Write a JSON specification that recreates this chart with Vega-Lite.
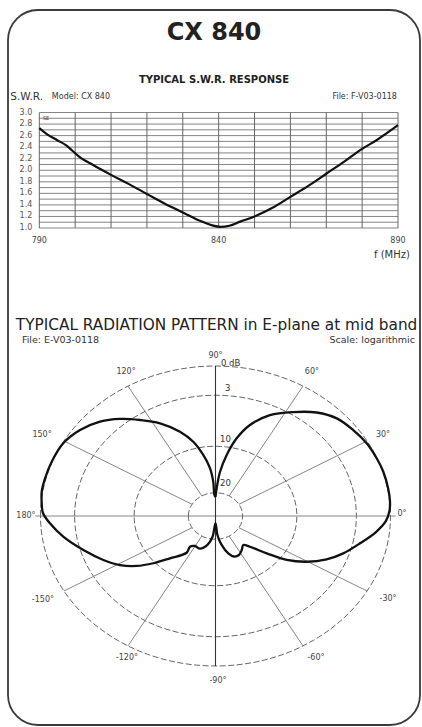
{
  "$schema": "https://vega.github.io/schema/vega-lite/v6.json",
  "width": 412,
  "height": 715,
  "autosize": {"type": "none"},
  "padding": {"left": 8, "top": 10, "right": 2, "bottom": 2},
  "background": "white",
  "config": {
    "font": "DejaVu Sans",
    "view": {"stroke": "#3a3a3a", "strokeWidth": 1.8, "cornerRadius": 30, "fill": "white"},
    "text": {"font": "DejaVu Sans", "color": "#222"}
  },
  "title": {
    "text": "CX 840",
    "subtitle": "TYPICAL S.W.R. RESPONSE",
    "anchor": "middle",
    "frame": "group",
    "offset": -75,
    "subtitlePadding": 30,
    "font": "DejaVu Sans",
    "fontSize": 24,
    "fontWeight": "bold",
    "color": "#222",
    "subtitleFont": "DejaVu Sans",
    "subtitleFontSize": 10,
    "subtitleFontWeight": "bold",
    "subtitleColor": "#222"
  },
  "resolve": {"scale": {"x": "independent", "y": "independent", "size": "independent"}},
  "layer": [
    {
      "layer": [
        {
          "data": {"values": [{"f": 790}, {"f": 800}, {"f": 810}, {"f": 820}, {"f": 830}, {"f": 840}, {"f": 850}, {"f": 860}, {"f": 870}, {"f": 880}, {"f": 890}]},
          "mark": {"type": "rule", "color": "#555", "strokeWidth": 0.9},
          "encoding": {
            "x": {"field": "f", "type": "quantitative", "scale": {"domain": [781.27, 896.13], "nice": false, "zero": false}, "axis": null},
            "y": {"datum": 1.0, "type": "quantitative", "scale": {"domain": [-7.606, 4.775], "nice": false, "zero": false}, "axis": null},
            "y2": {"datum": 3.0}
          }
        },
        {
          "data": {"values": [{"s": 1.0}, {"s": 1.1}, {"s": 1.2}, {"s": 1.3}, {"s": 1.4}, {"s": 1.5}, {"s": 1.6}, {"s": 1.7}, {"s": 1.8}, {"s": 1.9}, {"s": 2.0}, {"s": 2.1}, {"s": 2.2}, {"s": 2.3}, {"s": 2.4}, {"s": 2.5}, {"s": 2.6}, {"s": 2.7}, {"s": 2.8}, {"s": 2.9}, {"s": 3.0}]},
          "mark": {"type": "rule", "color": "#666", "strokeWidth": 0.8},
          "encoding": {
            "y": {"field": "s", "type": "quantitative", "scale": {"domain": [-7.606, 4.775], "nice": false, "zero": false}, "axis": null},
            "x": {"datum": 790, "type": "quantitative", "scale": {"domain": [781.27, 896.13], "nice": false, "zero": false}, "axis": null},
            "x2": {"datum": 890}
          }
        },
        {
          "data": {"values": [
            {"f": 790, "s": 2.73}, {"f": 792, "s": 2.63}, {"f": 795, "s": 2.52}, {"f": 797.5, "s": 2.43},
            {"f": 799, "s": 2.35}, {"f": 801, "s": 2.24}, {"f": 805, "s": 2.09}, {"f": 810, "s": 1.92},
            {"f": 815, "s": 1.76}, {"f": 820, "s": 1.59}, {"f": 825, "s": 1.42}, {"f": 830, "s": 1.27},
            {"f": 835, "s": 1.12}, {"f": 838, "s": 1.05}, {"f": 840.5, "s": 1.02}, {"f": 843, "s": 1.04},
            {"f": 846, "s": 1.11}, {"f": 850, "s": 1.2}, {"f": 855, "s": 1.35}, {"f": 860, "s": 1.54},
            {"f": 865, "s": 1.73}, {"f": 870, "s": 1.94}, {"f": 875, "s": 2.15}, {"f": 880, "s": 2.37},
            {"f": 884, "s": 2.52}, {"f": 890, "s": 2.78}
          ]},
          "mark": {"type": "line", "color": "#111", "strokeWidth": 2.2, "interpolate": "monotone"},
          "encoding": {
            "x": {"field": "f", "type": "quantitative", "scale": {"domain": [781.27, 896.13], "nice": false, "zero": false}, "axis": null},
            "y": {"field": "s", "type": "quantitative", "scale": {"domain": [-7.606, 4.775], "nice": false, "zero": false}, "axis": null}
          }
        },
        {
          "data": {"values": [{"s": 1.0}, {"s": 1.2}, {"s": 1.4}, {"s": 1.6}, {"s": 1.8}, {"s": 2.0}, {"s": 2.2}, {"s": 2.4}, {"s": 2.6}, {"s": 2.8}, {"s": 3.0}]},
          "mark": {"type": "text", "align": "right", "baseline": "middle", "fontSize": 8, "color": "#555", "dx": -7},
          "encoding": {
            "x": {"datum": 790, "type": "quantitative", "scale": {"domain": [781.27, 896.13], "nice": false, "zero": false}, "axis": null},
            "y": {"field": "s", "type": "quantitative", "scale": {"domain": [-7.606, 4.775], "nice": false, "zero": false}, "axis": null},
            "text": {"field": "s", "type": "quantitative", "format": ".1f"}
          }
        },
        {
          "data": {"values": [{"f": 790}, {"f": 840}, {"f": 890}]},
          "mark": {"type": "text", "align": "center", "baseline": "middle", "fontSize": 8, "color": "#444", "dy": 13},
          "encoding": {
            "x": {"field": "f", "type": "quantitative", "scale": {"domain": [781.27, 896.13], "nice": false, "zero": false}, "axis": null},
            "y": {"datum": 1.0, "type": "quantitative", "scale": {"domain": [-7.606, 4.775], "nice": false, "zero": false}, "axis": null},
            "text": {"field": "f", "type": "quantitative", "format": "d"}
          }
        },
        {
          "data": {"values": [{"t": "S.W.R.", "f": 781.9, "s": 3.27}]},
          "mark": {"type": "text", "align": "left", "baseline": "middle", "fontSize": 10.5, "color": "#333"},
          "encoding": {
            "x": {"field": "f", "type": "quantitative", "scale": {"domain": [781.27, 896.13], "nice": false, "zero": false}, "axis": null},
            "y": {"field": "s", "type": "quantitative", "scale": {"domain": [-7.606, 4.775], "nice": false, "zero": false}, "axis": null},
            "text": {"field": "t"}
          }
        },
        {
          "data": {"values": [{"t": "Model: CX 840", "f": 793.5, "s": 3.27}]},
          "mark": {"type": "text", "align": "left", "baseline": "middle", "fontSize": 8, "color": "#333"},
          "encoding": {
            "x": {"field": "f", "type": "quantitative", "scale": {"domain": [781.27, 896.13], "nice": false, "zero": false}, "axis": null},
            "y": {"field": "s", "type": "quantitative", "scale": {"domain": [-7.606, 4.775], "nice": false, "zero": false}, "axis": null},
            "text": {"field": "t"}
          }
        },
        {
          "data": {"values": [{"t": "SE", "f": 791.0, "s": 2.905}]},
          "mark": {"type": "text", "align": "left", "baseline": "middle", "fontSize": 5, "color": "#333"},
          "encoding": {
            "x": {"field": "f", "type": "quantitative", "scale": {"domain": [781.27, 896.13], "nice": false, "zero": false}, "axis": null},
            "y": {"field": "s", "type": "quantitative", "scale": {"domain": [-7.606, 4.775], "nice": false, "zero": false}, "axis": null},
            "text": {"field": "t"}
          }
        },
        {
          "data": {"values": [{"t": "File: F-V03-0118", "f": 889.7, "s": 3.27}]},
          "mark": {"type": "text", "align": "right", "baseline": "middle", "fontSize": 8, "color": "#333"},
          "encoding": {
            "x": {"field": "f", "type": "quantitative", "scale": {"domain": [781.27, 896.13], "nice": false, "zero": false}, "axis": null},
            "y": {"field": "s", "type": "quantitative", "scale": {"domain": [-7.606, 4.775], "nice": false, "zero": false}, "axis": null},
            "text": {"field": "t"}
          }
        },
        {
          "data": {"values": [{"t": "f (MHz)", "f": 893.3, "s": 0.53}]},
          "mark": {"type": "text", "align": "right", "baseline": "middle", "fontSize": 10, "color": "#333"},
          "encoding": {
            "x": {"field": "f", "type": "quantitative", "scale": {"domain": [781.27, 896.13], "nice": false, "zero": false}, "axis": null},
            "y": {"field": "s", "type": "quantitative", "scale": {"domain": [-7.606, 4.775], "nice": false, "zero": false}, "axis": null},
            "text": {"field": "t"}
          }
        }
      ]
    },
    {
      "layer": [
        {
          "data": {"values": [{"r": 1.0}, {"r": 0.805}, {"r": 0.465}, {"r": 0.155}]},
          "mark": {"type": "point", "shape": "M-1,0A1,0.857,0,1,1,1,0A1,0.857,0,1,1,-1,0Z", "filled": false, "stroke": "#555", "strokeWidth": 0.9, "strokeDash": [6, 2.5], "opacity": 1},
          "encoding": {
            "x": {"datum": 0, "type": "quantitative", "scale": {"domain": [-1.1857, 1.1686], "nice": false, "zero": false}, "axis": null},
            "y": {"datum": 0, "type": "quantitative", "scale": {"domain": [-1.3933, 3.3733], "nice": false, "zero": false}, "axis": null},
            "size": {"field": "r", "type": "quantitative", "scale": {"type": "pow", "exponent": 2, "domain": [0, 1], "range": [0, 122500]}, "legend": null}
          }
        },
        {
          "data": {"values": [
            {"x1": 0.134, "y1": 0.078, "x2": 0.866, "y2": 0.5},
            {"x1": 0.078, "y1": 0.134, "x2": 0.5, "y2": 0.866},
            {"x1": -0.078, "y1": 0.134, "x2": -0.5, "y2": 0.866},
            {"x1": -0.134, "y1": 0.078, "x2": -0.866, "y2": 0.5},
            {"x1": 0.134, "y1": -0.078, "x2": 0.866, "y2": -0.5},
            {"x1": 0.078, "y1": -0.134, "x2": 0.5, "y2": -0.866},
            {"x1": -0.078, "y1": -0.134, "x2": -0.5, "y2": -0.866},
            {"x1": -0.134, "y1": -0.078, "x2": -0.866, "y2": -0.5},
            {"x1": -1.03, "y1": 0, "x2": 1.03, "y2": 0}
          ]},
          "mark": {"type": "rule", "color": "#777", "strokeWidth": 0.9},
          "encoding": {
            "x": {"field": "x1", "type": "quantitative", "scale": {"domain": [-1.1857, 1.1686], "nice": false, "zero": false}, "axis": null},
            "y": {"field": "y1", "type": "quantitative", "scale": {"domain": [-1.3933, 3.3733], "nice": false, "zero": false}, "axis": null},
            "x2": {"field": "x2"},
            "y2": {"field": "y2"}
          }
        },
        {
          "data": {"values": [{"x1": 0, "y1": -1, "x2": 0, "y2": 1}]},
          "mark": {"type": "rule", "color": "#333", "strokeWidth": 1.1},
          "encoding": {
            "x": {"field": "x1", "type": "quantitative", "scale": {"domain": [-1.1857, 1.1686], "nice": false, "zero": false}, "axis": null},
            "y": {"field": "y1", "type": "quantitative", "scale": {"domain": [-1.3933, 3.3733], "nice": false, "zero": false}, "axis": null},
            "x2": {"field": "x2"},
            "y2": {"field": "y2"}
          }
        },
        {
          "data": {"values": [
            {"i": 1, "u": 0.0, "v": 0.127}, {"i": 2, "u": 0.007, "v": 0.187}, {"i": 3, "u": 0.026, "v": 0.295},
            {"i": 4, "u": 0.064, "v": 0.407}, {"i": 5, "u": 0.121, "v": 0.518}, {"i": 6, "u": 0.197, "v": 0.607},
            {"i": 7, "u": 0.311, "v": 0.673}, {"i": 8, "u": 0.445, "v": 0.693}, {"i": 9, "u": 0.578, "v": 0.69},
            {"i": 10, "u": 0.693, "v": 0.651}, {"i": 11, "u": 0.787, "v": 0.573}, {"i": 12, "u": 0.864, "v": 0.485},
            {"i": 13, "u": 0.921, "v": 0.385}, {"i": 14, "u": 0.959, "v": 0.295}, {"i": 15, "u": 0.986, "v": 0.187},
            {"i": 16, "u": 0.997, "v": 0.1}, {"i": 17, "u": 0.994, "v": 0.033}, {"i": 18, "u": 0.974, "v": -0.033},
            {"i": 19, "u": 0.917, "v": -0.107}, {"i": 20, "u": 0.826, "v": -0.182}, {"i": 21, "u": 0.73, "v": -0.249},
            {"i": 22, "u": 0.635, "v": -0.289}, {"i": 23, "u": 0.521, "v": -0.305}, {"i": 24, "u": 0.407, "v": -0.293},
            {"i": 25, "u": 0.293, "v": -0.249}, {"i": 26, "u": 0.197, "v": -0.205}, {"i": 27, "u": 0.159, "v": -0.193},
            {"i": 28, "u": 0.15, "v": -0.227}, {"i": 29, "u": 0.134, "v": -0.26}, {"i": 30, "u": 0.106, "v": -0.27},
            {"i": 31, "u": 0.073, "v": -0.249}, {"i": 32, "u": 0.035, "v": -0.193}, {"i": 33, "u": 0.011, "v": -0.127},
            {"i": 34, "u": 0.0, "v": -0.047}, {"i": 35, "u": -0.017, "v": -0.138}, {"i": 36, "u": -0.046, "v": -0.193},
            {"i": 37, "u": -0.089, "v": -0.218}, {"i": 38, "u": -0.117, "v": -0.2}, {"i": 39, "u": -0.146, "v": -0.205},
            {"i": 40, "u": -0.165, "v": -0.245}, {"i": 41, "u": -0.26, "v": -0.282}, {"i": 42, "u": -0.355, "v": -0.315},
            {"i": 43, "u": -0.45, "v": -0.333}, {"i": 44, "u": -0.546, "v": -0.327}, {"i": 45, "u": -0.641, "v": -0.293},
            {"i": 46, "u": -0.755, "v": -0.227}, {"i": 47, "u": -0.87, "v": -0.138}, {"i": 48, "u": -0.946, "v": -0.049},
            {"i": 49, "u": -0.986, "v": 0.02}, {"i": 50, "u": -0.993, "v": 0.087}, {"i": 51, "u": -0.993, "v": 0.162},
            {"i": 52, "u": -0.974, "v": 0.251}, {"i": 53, "u": -0.936, "v": 0.362}, {"i": 54, "u": -0.87, "v": 0.485},
            {"i": 55, "u": -0.774, "v": 0.573}, {"i": 56, "u": -0.66, "v": 0.629}, {"i": 57, "u": -0.546, "v": 0.647},
            {"i": 58, "u": -0.431, "v": 0.64}, {"i": 59, "u": -0.317, "v": 0.618}, {"i": 60, "u": -0.203, "v": 0.562},
            {"i": 61, "u": -0.127, "v": 0.495}, {"i": 62, "u": -0.07, "v": 0.407}, {"i": 63, "u": -0.031, "v": 0.318},
            {"i": 64, "u": -0.013, "v": 0.229}, {"i": 65, "u": -0.006, "v": 0.14}, {"i": 66, "u": 0.0, "v": 0.127}
          ]},
          "mark": {"type": "line", "color": "#111", "strokeWidth": 2.3, "interpolate": "catmull-rom"},
          "encoding": {
            "x": {"field": "u", "type": "quantitative", "scale": {"domain": [-1.1857, 1.1686], "nice": false, "zero": false}, "axis": null},
            "y": {"field": "v", "type": "quantitative", "scale": {"domain": [-1.3933, 3.3733], "nice": false, "zero": false}, "axis": null},
            "order": {"field": "i", "type": "quantitative"}
          }
        },
        {
          "data": {"values": [
            {"t": "90°", "u": 0.0, "v": 1.067}, {"t": "120°", "u": -0.511, "v": 0.96}, {"t": "60°", "u": 0.551, "v": 0.96},
            {"t": "150°", "u": -0.991, "v": 0.54}, {"t": "30°", "u": 0.957, "v": 0.54}, {"t": "180°", "u": -1.083, "v": 0.0},
            {"t": "0°", "u": 1.066, "v": 0.013}, {"t": "-150°", "u": -0.986, "v": -0.56}, {"t": "-30°", "u": 0.986, "v": -0.553},
            {"t": "-120°", "u": -0.506, "v": -0.947}, {"t": "-60°", "u": 0.574, "v": -0.947}, {"t": "-90°", "u": 0.014, "v": -1.1}
          ]},
          "mark": {"type": "text", "align": "center", "baseline": "middle", "fontSize": 8, "color": "#444"},
          "encoding": {
            "x": {"field": "u", "type": "quantitative", "scale": {"domain": [-1.1857, 1.1686], "nice": false, "zero": false}, "axis": null},
            "y": {"field": "v", "type": "quantitative", "scale": {"domain": [-1.3933, 3.3733], "nice": false, "zero": false}, "axis": null},
            "text": {"field": "t"}
          }
        },
        {
          "data": {"values": [
            {"t": "0 dB", "u": 0.031, "v": 1.02}, {"t": "3", "u": 0.054, "v": 0.853},
            {"t": "10", "u": 0.026, "v": 0.513}, {"t": "20", "u": 0.026, "v": 0.22}
          ]},
          "mark": {"type": "text", "align": "left", "baseline": "middle", "fontSize": 8.5, "color": "#333"},
          "encoding": {
            "x": {"field": "u", "type": "quantitative", "scale": {"domain": [-1.1857, 1.1686], "nice": false, "zero": false}, "axis": null},
            "y": {"field": "v", "type": "quantitative", "scale": {"domain": [-1.3933, 3.3733], "nice": false, "zero": false}, "axis": null},
            "text": {"field": "t"}
          }
        },
        {
          "data": {"values": [{"t": "TYPICAL RADIATION PATTERN in E-plane at mid band", "u": 0.006, "v": 1.273}]},
          "mark": {"type": "text", "align": "center", "baseline": "middle", "fontSize": 15.3, "color": "#222"},
          "encoding": {
            "x": {"field": "u", "type": "quantitative", "scale": {"domain": [-1.1857, 1.1686], "nice": false, "zero": false}, "axis": null},
            "y": {"field": "v", "type": "quantitative", "scale": {"domain": [-1.3933, 3.3733], "nice": false, "zero": false}, "axis": null},
            "text": {"field": "t"}
          }
        },
        {
          "data": {"values": [{"t": "File: E-V03-0118", "u": -1.106, "v": 1.173}]},
          "mark": {"type": "text", "align": "left", "baseline": "middle", "fontSize": 9.5, "color": "#333"},
          "encoding": {
            "x": {"field": "u", "type": "quantitative", "scale": {"domain": [-1.1857, 1.1686], "nice": false, "zero": false}, "axis": null},
            "y": {"field": "v", "type": "quantitative", "scale": {"domain": [-1.3933, 3.3733], "nice": false, "zero": false}, "axis": null},
            "text": {"field": "t"}
          }
        },
        {
          "data": {"values": [{"t": "Scale: logarithmic", "u": 1.14, "v": 1.173}]},
          "mark": {"type": "text", "align": "right", "baseline": "middle", "fontSize": 9.5, "color": "#333"},
          "encoding": {
            "x": {"field": "u", "type": "quantitative", "scale": {"domain": [-1.1857, 1.1686], "nice": false, "zero": false}, "axis": null},
            "y": {"field": "v", "type": "quantitative", "scale": {"domain": [-1.3933, 3.3733], "nice": false, "zero": false}, "axis": null},
            "text": {"field": "t"}
          }
        }
      ]
    }
  ]
}
